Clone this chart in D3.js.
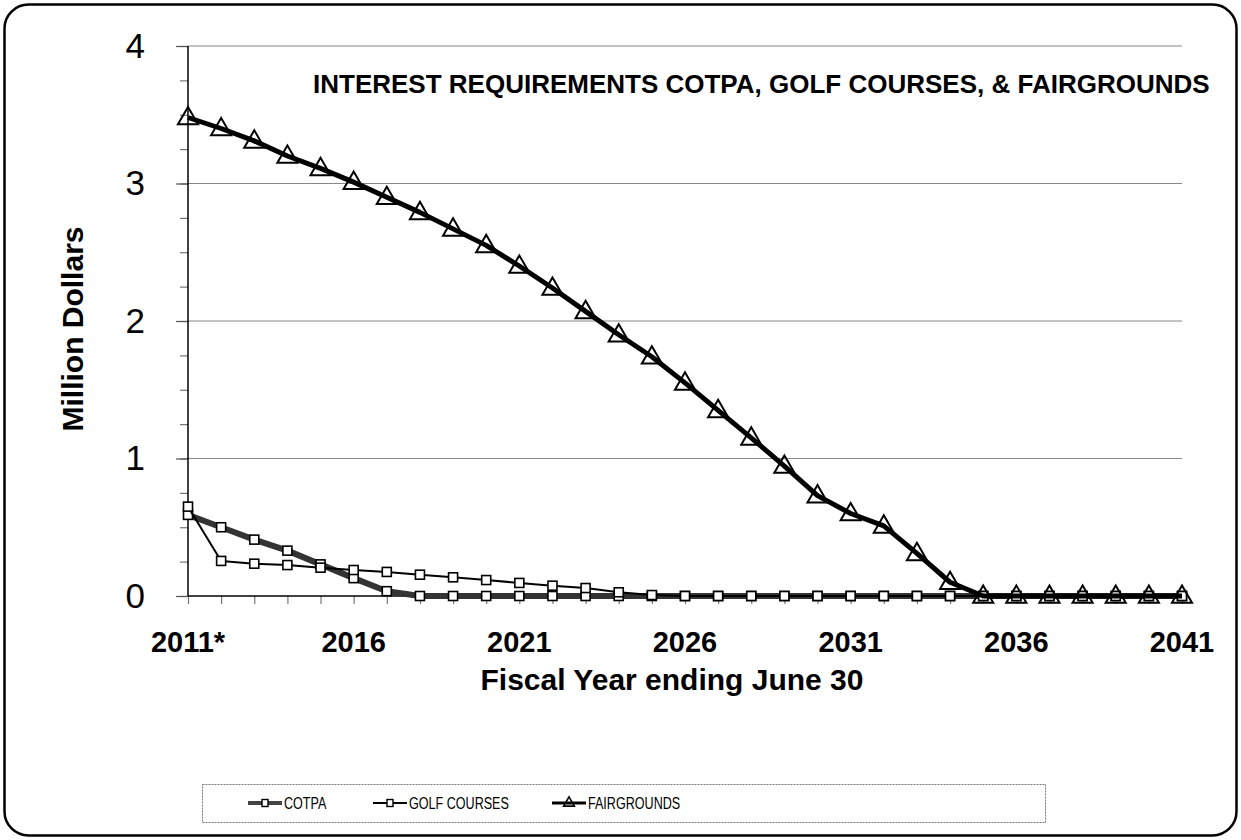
<!DOCTYPE html>
<html>
<head>
<meta charset="utf-8">
<script src="https://cdn.jsdelivr.net/npm/d3@7"></script>
<style>
  html, body { margin: 0; padding: 0; background: #fff; }
  svg { display: block; font-family: "Liberation Sans", Arial, sans-serif; }
</style>
</head>
<body>
<svg id="chart" width="1241" height="840"></svg>
<script>
// Fiscal years (ending June 30)
const years = d3.range(2011, 2042);

// Interest requirements, million dollars
const cotpa = [0.59, 0.50, 0.41, 0.33, 0.23, 0.13, 0.035, 0, 0, 0,
               0, 0, 0, 0, 0, 0, 0, 0, 0, 0,
               0, 0, 0, 0, 0, 0, 0, 0, 0, 0, 0];
const golfCourses = [0.65, 0.255, 0.235, 0.225, 0.206, 0.189, 0.175, 0.155, 0.136, 0.116,
                     0.095, 0.075, 0.058, 0.027, 0.007, 0, 0, 0, 0, 0,
                     0, 0, 0, 0, 0, 0, 0, 0, 0, 0, 0];
const fairgrounds = [3.48, 3.40, 3.31, 3.20, 3.11, 3.01, 2.90, 2.79, 2.67, 2.55,
                     2.40, 2.24, 2.07, 1.90, 1.74, 1.55, 1.35, 1.15, 0.945, 0.73,
                     0.60, 0.51, 0.31, 0.10, 0, 0, 0, 0, 0, 0, 0];

// Axis ticks and labels
const xTickYears = [2011, 2016, 2021, 2026, 2031, 2036, 2041];
const xTickLabels = ["2011*", "2016", "2021", "2026", "2031", "2036", "2041"];
const yMajorTicks = [0, 1, 2, 3, 4];
const yMinorTicks = d3.range(0, 4.001, 0.25);

const seriesNames = ["COTPA", "GOLF COURSES", "FAIRGROUNDS"];

const titleText = "INTEREST REQUIREMENTS COTPA, GOLF COURSES, & FAIRGROUNDS";
const xTitle = "Fiscal Year ending June 30";
const yTitle = "Million Dollars";

// ---- layout ----
const svg = d3.select("#chart");
const plot = { left: 188, right: 1182, top: 46, bottom: 596 };

const x = d3.scaleLinear().domain([2011, 2041]).range([plot.left, plot.right]);
const y = d3.scaleLinear().domain([0, 4]).range([plot.bottom, plot.top]);

// outer rounded frame
svg.append("rect")
  .attr("x", 4.5).attr("y", 4.5)
  .attr("width", 1232).attr("height", 831)
  .attr("rx", 24).attr("ry", 24)
  .attr("fill", "#fff").attr("stroke", "#000").attr("stroke-width", 2.5);

// horizontal gridlines
svg.append("g").selectAll("line")
  .data(yMajorTicks.filter(d => d > 0))
  .join("line")
  .attr("x1", plot.left).attr("x2", plot.right)
  .attr("y1", d => y(d)).attr("y2", d => y(d))
  .attr("stroke", "#888").attr("stroke-width", 1.2);

// y axis: minor ticks every 0.25, labels on whole numbers
const yAxisMinor = d3.axisLeft(y).tickValues(yMinorTicks).tickSize(8).tickFormat("");
svg.append("g")
  .attr("transform", `translate(${plot.left},0)`)
  .call(yAxisMinor)
  .call(g => g.select(".domain").remove())
  .call(g => g.selectAll(".tick line").attr("stroke", "#777").attr("stroke-width", 1.2));

const yAxisMajor = d3.axisLeft(y).tickValues(yMajorTicks).tickSize(12).tickPadding(31)
  .tickFormat(d3.format("d"));
svg.append("g")
  .attr("transform", `translate(${plot.left},0)`)
  .call(yAxisMajor)
  .call(g => g.select(".domain").remove())
  .call(g => g.selectAll(".tick line").attr("stroke", "#555").attr("stroke-width", 1.2))
  .call(g => g.selectAll(".tick text")
    .attr("font-family", "Liberation Sans, Arial, sans-serif")
    .attr("font-size", 35).attr("fill", "#000"));

svg.append("line")
  .attr("x1", plot.left).attr("x2", plot.left)
  .attr("y1", plot.top).attr("y2", plot.bottom)
  .attr("stroke", "#000").attr("stroke-width", 1.5);

// x axis: tick every year, labels every five
const xAxis = d3.axisBottom(x).tickValues(years).tickSize(8).tickFormat("");
svg.append("g")
  .attr("transform", `translate(0,${plot.bottom})`)
  .call(xAxis)
  .call(g => g.select(".domain").remove())
  .call(g => g.selectAll(".tick line").attr("stroke", "#777").attr("stroke-width", 1.2));

svg.append("line")
  .attr("x1", plot.left).attr("x2", plot.right)
  .attr("y1", plot.bottom).attr("y2", plot.bottom)
  .attr("stroke", "#000").attr("stroke-width", 1.5);

svg.append("g").selectAll("text")
  .data(xTickYears)
  .join("text")
  .attr("x", d => x(d))
  .attr("y", 652)
  .attr("text-anchor", "middle")
  .attr("font-size", 29).attr("font-weight", "bold")
  .text((d, i) => xTickLabels[i]);

// axis titles
svg.append("text")
  .attr("x", 672).attr("y", 690)
  .attr("text-anchor", "middle")
  .attr("font-size", 30).attr("font-weight", "bold")
  .text(xTitle);

svg.append("text")
  .attr("transform", "translate(83,329) rotate(-90)")
  .attr("text-anchor", "middle")
  .attr("font-size", 30).attr("font-weight", "bold")
  .text(yTitle);

// chart title
svg.append("text")
  .attr("x", 313).attr("y", 93)
  .attr("font-size", 26).attr("font-weight", "bold")
  .text(titleText);

// ---- series ----
const line = d3.line().x((d, i) => x(years[i])).y(d => y(d));

const tri = d3.symbol().type(d3.symbolTriangle).size(175);

function squareMarkers(data) {
  svg.append("g").selectAll("rect")
    .data(data)
    .join("rect")
    .attr("x", (d, i) => x(years[i]) - 4.5)
    .attr("y", d => y(d) - 4.5)
    .attr("width", 9).attr("height", 9)
    .attr("fill", "#fff").attr("stroke", "#000").attr("stroke-width", 1.6);
}

// COTPA
svg.append("path").datum(cotpa)
  .attr("d", line).attr("fill", "none")
  .attr("stroke", "#333").attr("stroke-width", 6).attr("stroke-linejoin", "round");
squareMarkers(cotpa);

// GOLF COURSES
svg.append("path").datum(golfCourses)
  .attr("d", line).attr("fill", "none")
  .attr("stroke", "#000").attr("stroke-width", 2).attr("stroke-linejoin", "round");
squareMarkers(golfCourses);

// FAIRGROUNDS
svg.append("path").datum(fairgrounds)
  .attr("d", line).attr("fill", "none")
  .attr("stroke", "#000").attr("stroke-width", 5).attr("stroke-linejoin", "round");
svg.append("g").selectAll("path")
  .data(fairgrounds)
  .join("path")
  .attr("transform", (d, i) => `translate(${x(years[i])},${y(d) + 1})`)
  .attr("d", tri)
  .attr("fill", "none").attr("stroke", "#000").attr("stroke-width", 2);

// ---- legend ----
const legend = svg.append("g");
legend.append("rect")
  .attr("x", 202.5).attr("y", 784.5)
  .attr("width", 843).attr("height", 38)
  .attr("fill", "#fff").attr("stroke", "#777").attr("stroke-width", 1)
  .attr("stroke-dasharray", "2,1");

const legendItems = [
  { name: seriesNames[0], x0: 248, color: "#444", width: 4, marker: "square" },
  { name: seriesNames[1], x0: 373, color: "#000", width: 2, marker: "square" },
  { name: seriesNames[2], x0: 552, color: "#000", width: 3, marker: "triangle" }
];
const ly = 803;
legendItems.forEach(it => {
  legend.append("line")
    .attr("x1", it.x0).attr("x2", it.x0 + 34)
    .attr("y1", ly).attr("y2", ly)
    .attr("stroke", it.color).attr("stroke-width", it.width);
  if (it.marker === "square") {
    legend.append("rect")
      .attr("x", it.x0 + 14).attr("y", ly - 3.5)
      .attr("width", 6).attr("height", 7)
      .attr("fill", "#fff").attr("stroke", "#000").attr("stroke-width", 1.4);
  } else {
    legend.append("path")
      .attr("transform", `translate(${it.x0 + 17},${ly})`)
      .attr("d", d3.symbol().type(d3.symbolTriangle).size(50))
      .attr("fill", "none").attr("stroke", "#000").attr("stroke-width", 1.6);
  }
  // condensed label text
  legend.append("text")
    .attr("transform", `translate(${it.x0 + 36},${ly + 6}) scale(0.74,1)`)
    .attr("font-size", 17)
    .text(it.name);
});
</script>
</body>
</html>
